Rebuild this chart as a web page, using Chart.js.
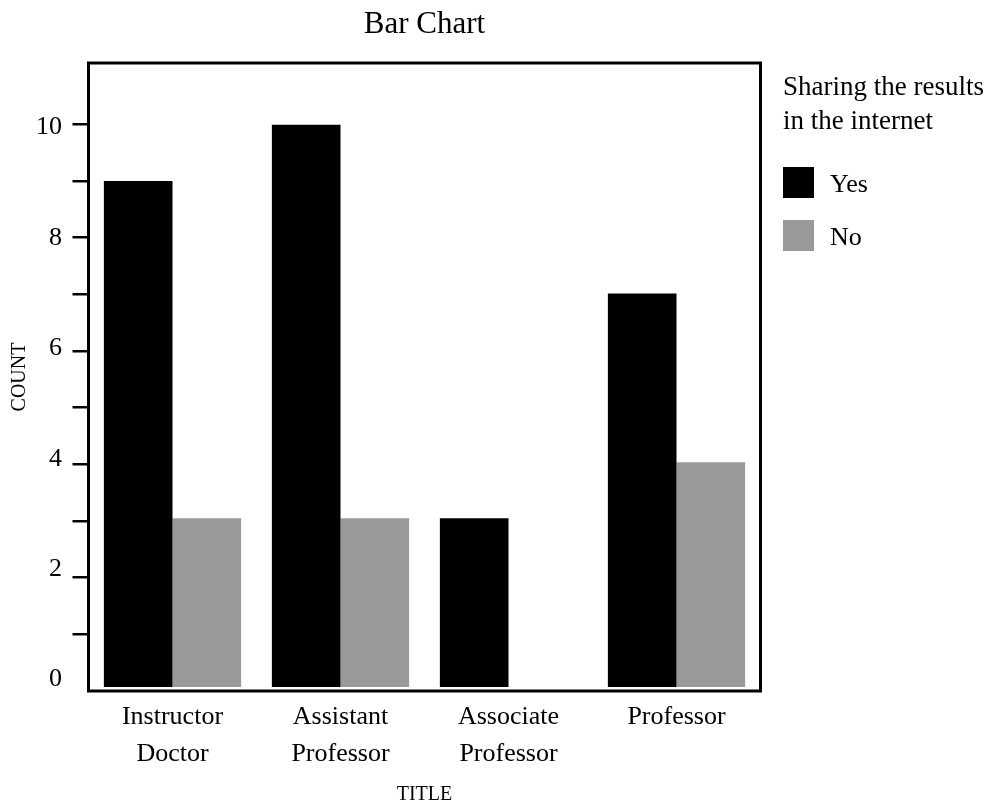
<!DOCTYPE html>
<html>
<head>
<meta charset="utf-8">
<title>Bar Chart</title>
<script src="https://cdn.jsdelivr.net/npm/chart.js@4"></script>
<style>
  body { margin: 0; background: #fff; }
</style>
</head>
<body>
<canvas id="barChart" width="986" height="805"></canvas>
<script>
// data
const categories = [["Instructor", "Doctor"], ["Assistant", "Professor"], ["Associate", "Professor"], "Professor"];
const seriesNames = ["Yes", "No"];
const yesCounts = [9, 10, 3, 7];
const noCounts = [3, 3, 0, 4];
const countLabels = [0, 2, 4, 6, 8, 10];
const countMarks = [1, 2, 3, 4, 5, 6, 7, 8, 9, 10];
const legendTitle = ["Sharing the results", "in the internet"];

const FONT = "'Liberation Serif', 'Times New Roman', serif";
Chart.defaults.font.family = FONT;
Chart.defaults.color = "#000";

// frame round the plot, chart title and the legend on the right
const decorations = {
    id: "decorations",
    afterDatasetsDraw(chart) {
        const ctx = chart.ctx;
        const a = chart.chartArea;
        ctx.save();
        ctx.strokeStyle = "#000";
        ctx.lineWidth = 3;
        ctx.strokeRect(a.left, a.top, a.right - a.left, a.bottom - a.top);

        ctx.fillStyle = "#000";
        ctx.textAlign = "center";
        ctx.textBaseline = "alphabetic";
        ctx.font = "31px " + FONT;
        ctx.fillText("Bar Chart", (a.left + a.right) / 2, 33);

        const lx = a.right + 22.5;
        ctx.textAlign = "left";
        ctx.font = "27px " + FONT;
        legendTitle.forEach((line, i) => {
            ctx.fillText(line, lx, 95 + i * 33.5);
        });

        ctx.font = "26px " + FONT;
        chart.data.datasets.forEach((ds, i) => {
            const top = 167 + i * 53;
            ctx.fillStyle = ds.backgroundColor;
            ctx.fillRect(lx, top, 31, 31);
            ctx.fillStyle = "#000";
            ctx.fillText(ds.label, lx + 47, top + 25);
        });
        ctx.restore();
    }
};

new Chart(document.getElementById("barChart"), {
    type: "bar",
    data: {
        labels: categories,
        datasets: [{
            label: seriesNames[0],
            data: yesCounts,
            backgroundColor: "#000000",
            yAxisID: "y"
        }, {
            label: seriesNames[1],
            data: noCounts,
            backgroundColor: "#9a9a9a",
            yAxisID: "y"
        }]
    },
    options: {
        responsive: false,
        animation: false,
        events: [],
        categoryPercentage: 0.817,
        barPercentage: 1,
        layout: {
            padding: { top: 63, right: 225.5, left: 0, bottom: 0 }
        },
        plugins: {
            legend: { display: false },
            title: { display: false },
            tooltip: { enabled: false }
        },
        scales: {
            x: {
                offset: true,
                grid: { display: false, drawTicks: false },
                border: { display: false },
                ticks: {
                    font: { size: 26, lineHeight: 1.42 },
                    padding: 8,
                    maxRotation: 0,
                    autoSkip: false
                },
                title: {
                    display: true,
                    text: "TITLE",
                    font: { size: 20, lineHeight: 1 },
                    padding: { top: 0, bottom: 0 }
                },
                afterFit(scale) { scale.height = 114; }
            },
            // scale the bars are measured on
            y: {
                display: false,
                min: -0.071,
                max: 11.1
            },
            // small tick marks on the left edge
            yMarks: {
                position: "left",
                weight: 0,
                min: 0,
                max: 11.08,
                afterBuildTicks(scale) {
                    scale.ticks = countMarks.map(v => ({ value: v }));
                },
                ticks: { display: false },
                grid: {
                    drawOnChartArea: false,
                    drawTicks: true,
                    tickLength: 16,
                    color: "#000",
                    lineWidth: 2.5
                },
                border: { display: false },
                afterFit(scale) { scale.width = 17.5; }
            },
            // the numbers and the axis title
            yLabels: {
                position: "left",
                weight: 10,
                min: -0.208,
                max: 11.168,
                afterBuildTicks(scale) {
                    scale.ticks = countLabels.map(v => ({ value: v }));
                },
                ticks: {
                    font: { size: 26 },
                    padding: 9
                },
                grid: { display: false, drawTicks: false },
                border: { display: false },
                title: {
                    display: true,
                    text: "COUNT",
                    font: { size: 20, lineHeight: 1 },
                    padding: { top: 10, bottom: 0 }
                },
                afterFit(scale) { scale.width = 71; }
            }
        }
    },
    plugins: [decorations]
});
</script>
</body>
</html>
